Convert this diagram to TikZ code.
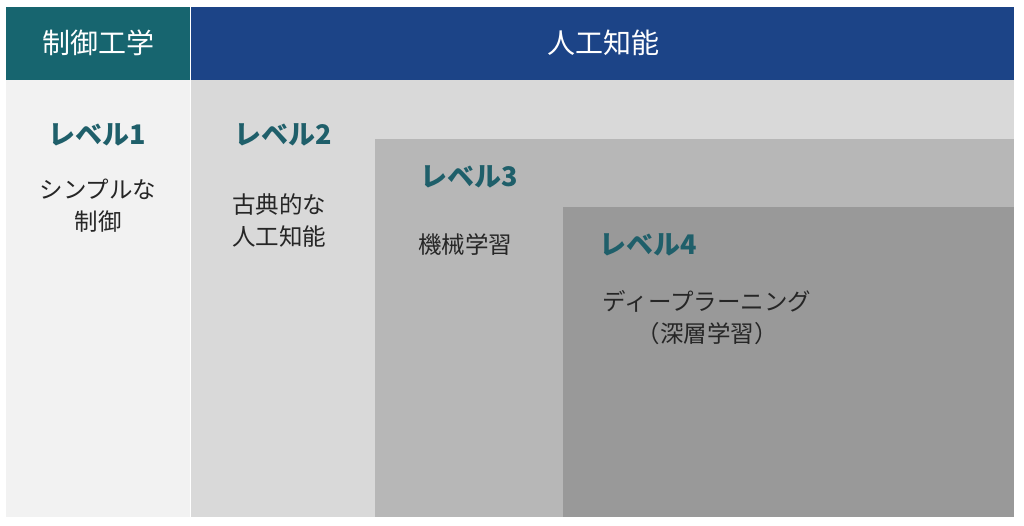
\documentclass[tikz,border=0pt]{standalone}
\usepackage{fontspec}
\newfontfamily\jp{Noto Sans CJK JP}
\definecolor{hdrteal}{HTML}{17656F}
\definecolor{hdrblue}{HTML}{1C4487}
\definecolor{lvone}{HTML}{F2F2F2}
\definecolor{lvtwo}{HTML}{D9D9D9}
\definecolor{lvthree}{HTML}{B7B7B7}
\definecolor{lvfour}{HTML}{999999}
\definecolor{lvtext}{HTML}{1F5F6A}
\definecolor{bodytext}{HTML}{262626}
\tikzset{
  hdrtext/.style={text=white, font=\jp\fontsize{28}{32}\selectfont, inner sep=0pt},
  lvlabel/.style={text=lvtext, font=\jp\bfseries\fontsize{27}{30}\selectfont, inner sep=0pt},
  bodylabel/.style={text=bodytext, font=\jp\fontsize{23.5}{32}\selectfont, inner sep=0pt, align=left},
}
\begin{document}
\begin{tikzpicture}[x=1pt,y=-1pt]
\useasboundingbox (0,0) rectangle (1024,526);
\fill[white] (0,0) rectangle (1024,526);
% level regions
\fill[lvone] (6,80) rectangle (190,517);
\fill[lvtwo] (191,80) rectangle (1014,517);
\fill[lvthree] (375,139) rectangle (1014,517);
\fill[lvfour] (563,207) rectangle (1014,517);
% headers
\fill[hdrteal] (6,7) rectangle (190,80);
\fill[hdrblue] (191,7) rectangle (1014,80);
\node[hdrtext] (hctrl) at (98,43) {制御工学};
\node[hdrtext] (hai) at (603,43) {人工知能};
% level labels
\node[lvlabel] (lone) at (97,135) {レベル1};
\node[lvlabel, anchor=west] (ltwo) at (234,135) {レベル2};
\node[lvlabel, anchor=west] (lthree) at (420,177) {レベル3};
\node[lvlabel, anchor=west] (lfour) at (599,245) {レベル4};
% body texts
\node[bodylabel, align=center] (tone) at (98,206) {シンプルな\\制御};
\node[bodylabel, anchor=west] (ttwo) at (232,221) {古典的な\\人工知能};
\node[bodylabel, anchor=west] (tthree) at (418,245) {機械学習};
\node[bodylabel, align=center] (tfour) at (707,318) {ディープラーニング\\（深層学習）};
\end{tikzpicture}
\end{document}
